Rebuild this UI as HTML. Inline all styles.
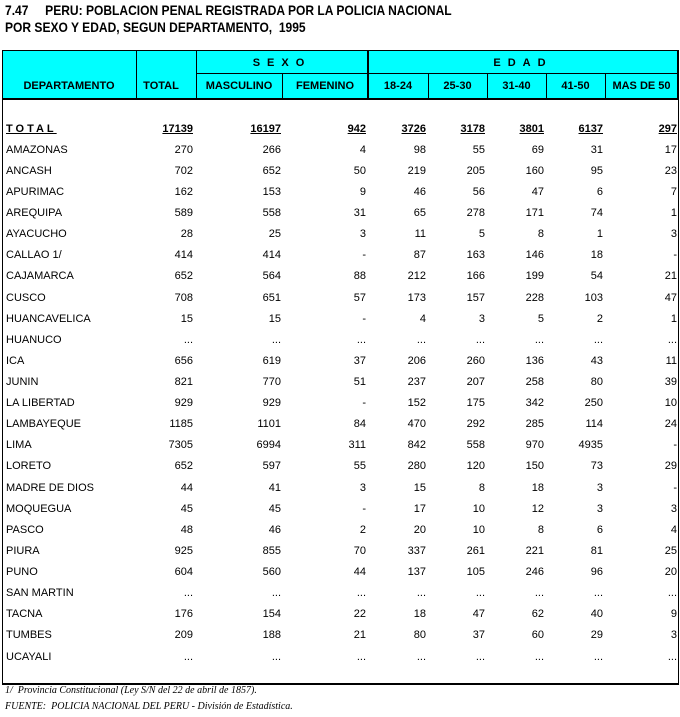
<!DOCTYPE html>
<html><head><meta charset="utf-8"><style>
body{margin:0;width:680px;height:717px;background:#fff;position:relative;overflow:hidden;font-family:"Liberation Sans",Arial,sans-serif;}
.t{position:absolute;left:5px;font-weight:bold;font-size:14px;white-space:nowrap;transform-origin:0 0;transform:scaleX(0.86);letter-spacing:0}
.box{position:absolute;left:2px;top:50px;width:675px;height:632px;border:1px solid #000;border-bottom-width:2px;}
.hd{position:absolute;left:2px;top:50px;width:676px;height:50px;background:#00ffff;border:1px solid #000;border-bottom-width:2px;box-sizing:border-box}
.v{position:absolute;width:1px;background:#000}
.h{position:absolute;height:1px;background:#000}
.hl{position:absolute;font-size:11px;font-weight:bold;text-align:center;white-space:nowrap}
.rows{position:absolute;left:0;top:2px;width:680px;height:700px}
.r{position:absolute;left:0;width:680px;height:14px;font-size:11px}
.r span{position:absolute;top:0;white-space:nowrap}
.tot span{font-weight:bold;text-decoration:underline}
.f{position:absolute;left:5px;font-family:"Liberation Serif",serif;font-style:italic;font-size:10px;white-space:nowrap}
</style></head><body>
<div class="t" style="top:2px">7.47&nbsp;&nbsp;&nbsp;&nbsp; PERU: POBLACION PENAL REGISTRADA POR LA POLICIA NACIONAL</div>
<div class="t" style="top:19px">POR SEXO Y EDAD, SEGUN DEPARTAMENTO,&nbsp; 1995</div>
<div class="box"></div>
<div class="hd"></div>
<div class="v" style="left:136px;top:50px;height:50px"></div>
<div class="v" style="left:196px;top:50px;height:50px"></div>
<div class="v" style="left:282px;top:74px;height:26px"></div>
<div class="v" style="left:367px;top:50px;height:50px;width:2px"></div>
<div class="v" style="left:428px;top:74px;height:26px"></div>
<div class="v" style="left:487px;top:74px;height:26px"></div>
<div class="v" style="left:546px;top:74px;height:26px"></div>
<div class="v" style="left:605px;top:74px;height:26px"></div>
<div class="h" style="left:196px;top:73px;width:482px"></div>
<div class="hl" style="left:196px;width:172px;top:57px;letter-spacing:7px">SEXO</div>
<div class="hl" style="left:368px;width:310px;top:57px;letter-spacing:7px">EDAD</div>
<div class="hl" style="left:2px;width:134px;top:80px">DEPARTAMENTO</div>
<div class="hl" style="left:136px;width:50px;top:80px">TOTAL</div>
<div class="hl" style="left:196px;width:86px;top:80px">MASCULINO</div>
<div class="hl" style="left:282px;width:86px;top:80px">FEMENINO</div>
<div class="hl" style="left:368px;width:60px;top:80px">18-24</div>
<div class="hl" style="left:428px;width:59px;top:80px">25-30</div>
<div class="hl" style="left:487px;width:59px;top:80px">31-40</div>
<div class="hl" style="left:546px;width:59px;top:80px">41-50</div>
<div class="hl" style="left:605px;width:73px;top:80px">MAS DE 50</div>
<div class="rows">
<div class="r tot" style="top:121px"><span style="left:6px;letter-spacing:3px">TOTAL</span><span style="right:487px">17139</span><span style="right:399px">16197</span><span style="right:314px">942</span><span style="right:254px">3726</span><span style="right:195px">3178</span><span style="right:136px">3801</span><span style="right:77px">6137</span><span style="right:3px">297</span></div>
<div class="r" style="top:142px"><span style="left:6px">AMAZONAS</span><span style="right:487px">270</span><span style="right:399px">266</span><span style="right:314px">4</span><span style="right:254px">98</span><span style="right:195px">55</span><span style="right:136px">69</span><span style="right:77px">31</span><span style="right:3px">17</span></div>
<div class="r" style="top:163px"><span style="left:6px">ANCASH</span><span style="right:487px">702</span><span style="right:399px">652</span><span style="right:314px">50</span><span style="right:254px">219</span><span style="right:195px">205</span><span style="right:136px">160</span><span style="right:77px">95</span><span style="right:3px">23</span></div>
<div class="r" style="top:184px"><span style="left:6px">APURIMAC</span><span style="right:487px">162</span><span style="right:399px">153</span><span style="right:314px">9</span><span style="right:254px">46</span><span style="right:195px">56</span><span style="right:136px">47</span><span style="right:77px">6</span><span style="right:3px">7</span></div>
<div class="r" style="top:205px"><span style="left:6px">AREQUIPA</span><span style="right:487px">589</span><span style="right:399px">558</span><span style="right:314px">31</span><span style="right:254px">65</span><span style="right:195px">278</span><span style="right:136px">171</span><span style="right:77px">74</span><span style="right:3px">1</span></div>
<div class="r" style="top:226px"><span style="left:6px">AYACUCHO</span><span style="right:487px">28</span><span style="right:399px">25</span><span style="right:314px">3</span><span style="right:254px">11</span><span style="right:195px">5</span><span style="right:136px">8</span><span style="right:77px">1</span><span style="right:3px">3</span></div>
<div class="r" style="top:247px"><span style="left:6px">CALLAO 1/</span><span style="right:487px">414</span><span style="right:399px">414</span><span style="right:314px">-</span><span style="right:254px">87</span><span style="right:195px">163</span><span style="right:136px">146</span><span style="right:77px">18</span><span style="right:3px">-</span></div>
<div class="r" style="top:268px"><span style="left:6px">CAJAMARCA</span><span style="right:487px">652</span><span style="right:399px">564</span><span style="right:314px">88</span><span style="right:254px">212</span><span style="right:195px">166</span><span style="right:136px">199</span><span style="right:77px">54</span><span style="right:3px">21</span></div>
<div class="r" style="top:290px"><span style="left:6px">CUSCO</span><span style="right:487px">708</span><span style="right:399px">651</span><span style="right:314px">57</span><span style="right:254px">173</span><span style="right:195px">157</span><span style="right:136px">228</span><span style="right:77px">103</span><span style="right:3px">47</span></div>
<div class="r" style="top:311px"><span style="left:6px">HUANCAVELICA</span><span style="right:487px">15</span><span style="right:399px">15</span><span style="right:314px">-</span><span style="right:254px">4</span><span style="right:195px">3</span><span style="right:136px">5</span><span style="right:77px">2</span><span style="right:3px">1</span></div>
<div class="r" style="top:332px"><span style="left:6px">HUANUCO</span><span style="right:487px">...</span><span style="right:399px">...</span><span style="right:314px">...</span><span style="right:254px">...</span><span style="right:195px">...</span><span style="right:136px">...</span><span style="right:77px">...</span><span style="right:3px">...</span></div>
<div class="r" style="top:353px"><span style="left:6px">ICA</span><span style="right:487px">656</span><span style="right:399px">619</span><span style="right:314px">37</span><span style="right:254px">206</span><span style="right:195px">260</span><span style="right:136px">136</span><span style="right:77px">43</span><span style="right:3px">11</span></div>
<div class="r" style="top:374px"><span style="left:6px">JUNIN</span><span style="right:487px">821</span><span style="right:399px">770</span><span style="right:314px">51</span><span style="right:254px">237</span><span style="right:195px">207</span><span style="right:136px">258</span><span style="right:77px">80</span><span style="right:3px">39</span></div>
<div class="r" style="top:395px"><span style="left:6px">LA LIBERTAD</span><span style="right:487px">929</span><span style="right:399px">929</span><span style="right:314px">-</span><span style="right:254px">152</span><span style="right:195px">175</span><span style="right:136px">342</span><span style="right:77px">250</span><span style="right:3px">10</span></div>
<div class="r" style="top:416px"><span style="left:6px">LAMBAYEQUE</span><span style="right:487px">1185</span><span style="right:399px">1101</span><span style="right:314px">84</span><span style="right:254px">470</span><span style="right:195px">292</span><span style="right:136px">285</span><span style="right:77px">114</span><span style="right:3px">24</span></div>
<div class="r" style="top:437px"><span style="left:6px">LIMA</span><span style="right:487px">7305</span><span style="right:399px">6994</span><span style="right:314px">311</span><span style="right:254px">842</span><span style="right:195px">558</span><span style="right:136px">970</span><span style="right:77px">4935</span><span style="right:3px">-</span></div>
<div class="r" style="top:458px"><span style="left:6px">LORETO</span><span style="right:487px">652</span><span style="right:399px">597</span><span style="right:314px">55</span><span style="right:254px">280</span><span style="right:195px">120</span><span style="right:136px">150</span><span style="right:77px">73</span><span style="right:3px">29</span></div>
<div class="r" style="top:480px"><span style="left:6px">MADRE DE DIOS</span><span style="right:487px">44</span><span style="right:399px">41</span><span style="right:314px">3</span><span style="right:254px">15</span><span style="right:195px">8</span><span style="right:136px">18</span><span style="right:77px">3</span><span style="right:3px">-</span></div>
<div class="r" style="top:501px"><span style="left:6px">MOQUEGUA</span><span style="right:487px">45</span><span style="right:399px">45</span><span style="right:314px">-</span><span style="right:254px">17</span><span style="right:195px">10</span><span style="right:136px">12</span><span style="right:77px">3</span><span style="right:3px">3</span></div>
<div class="r" style="top:522px"><span style="left:6px">PASCO</span><span style="right:487px">48</span><span style="right:399px">46</span><span style="right:314px">2</span><span style="right:254px">20</span><span style="right:195px">10</span><span style="right:136px">8</span><span style="right:77px">6</span><span style="right:3px">4</span></div>
<div class="r" style="top:543px"><span style="left:6px">PIURA</span><span style="right:487px">925</span><span style="right:399px">855</span><span style="right:314px">70</span><span style="right:254px">337</span><span style="right:195px">261</span><span style="right:136px">221</span><span style="right:77px">81</span><span style="right:3px">25</span></div>
<div class="r" style="top:564px"><span style="left:6px">PUNO</span><span style="right:487px">604</span><span style="right:399px">560</span><span style="right:314px">44</span><span style="right:254px">137</span><span style="right:195px">105</span><span style="right:136px">246</span><span style="right:77px">96</span><span style="right:3px">20</span></div>
<div class="r" style="top:585px"><span style="left:6px">SAN MARTIN</span><span style="right:487px">...</span><span style="right:399px">...</span><span style="right:314px">...</span><span style="right:254px">...</span><span style="right:195px">...</span><span style="right:136px">...</span><span style="right:77px">...</span><span style="right:3px">...</span></div>
<div class="r" style="top:606px"><span style="left:6px">TACNA</span><span style="right:487px">176</span><span style="right:399px">154</span><span style="right:314px">22</span><span style="right:254px">18</span><span style="right:195px">47</span><span style="right:136px">62</span><span style="right:77px">40</span><span style="right:3px">9</span></div>
<div class="r" style="top:627px"><span style="left:6px">TUMBES</span><span style="right:487px">209</span><span style="right:399px">188</span><span style="right:314px">21</span><span style="right:254px">80</span><span style="right:195px">37</span><span style="right:136px">60</span><span style="right:77px">29</span><span style="right:3px">3</span></div>
<div class="r" style="top:649px"><span style="left:6px">UCAYALI</span><span style="right:487px">...</span><span style="right:399px">...</span><span style="right:314px">...</span><span style="right:254px">...</span><span style="right:195px">...</span><span style="right:136px">...</span><span style="right:77px">...</span><span style="right:3px">...</span></div>
</div>
<div class="f" style="top:685px">1/&nbsp; Provincia Constitucional (Ley S/N del 22 de abril de 1857).</div>
<div class="f" style="top:701px">FUENTE:&nbsp; POLICIA NACIONAL DEL PERU - División de Estadística.</div>
</body></html>
